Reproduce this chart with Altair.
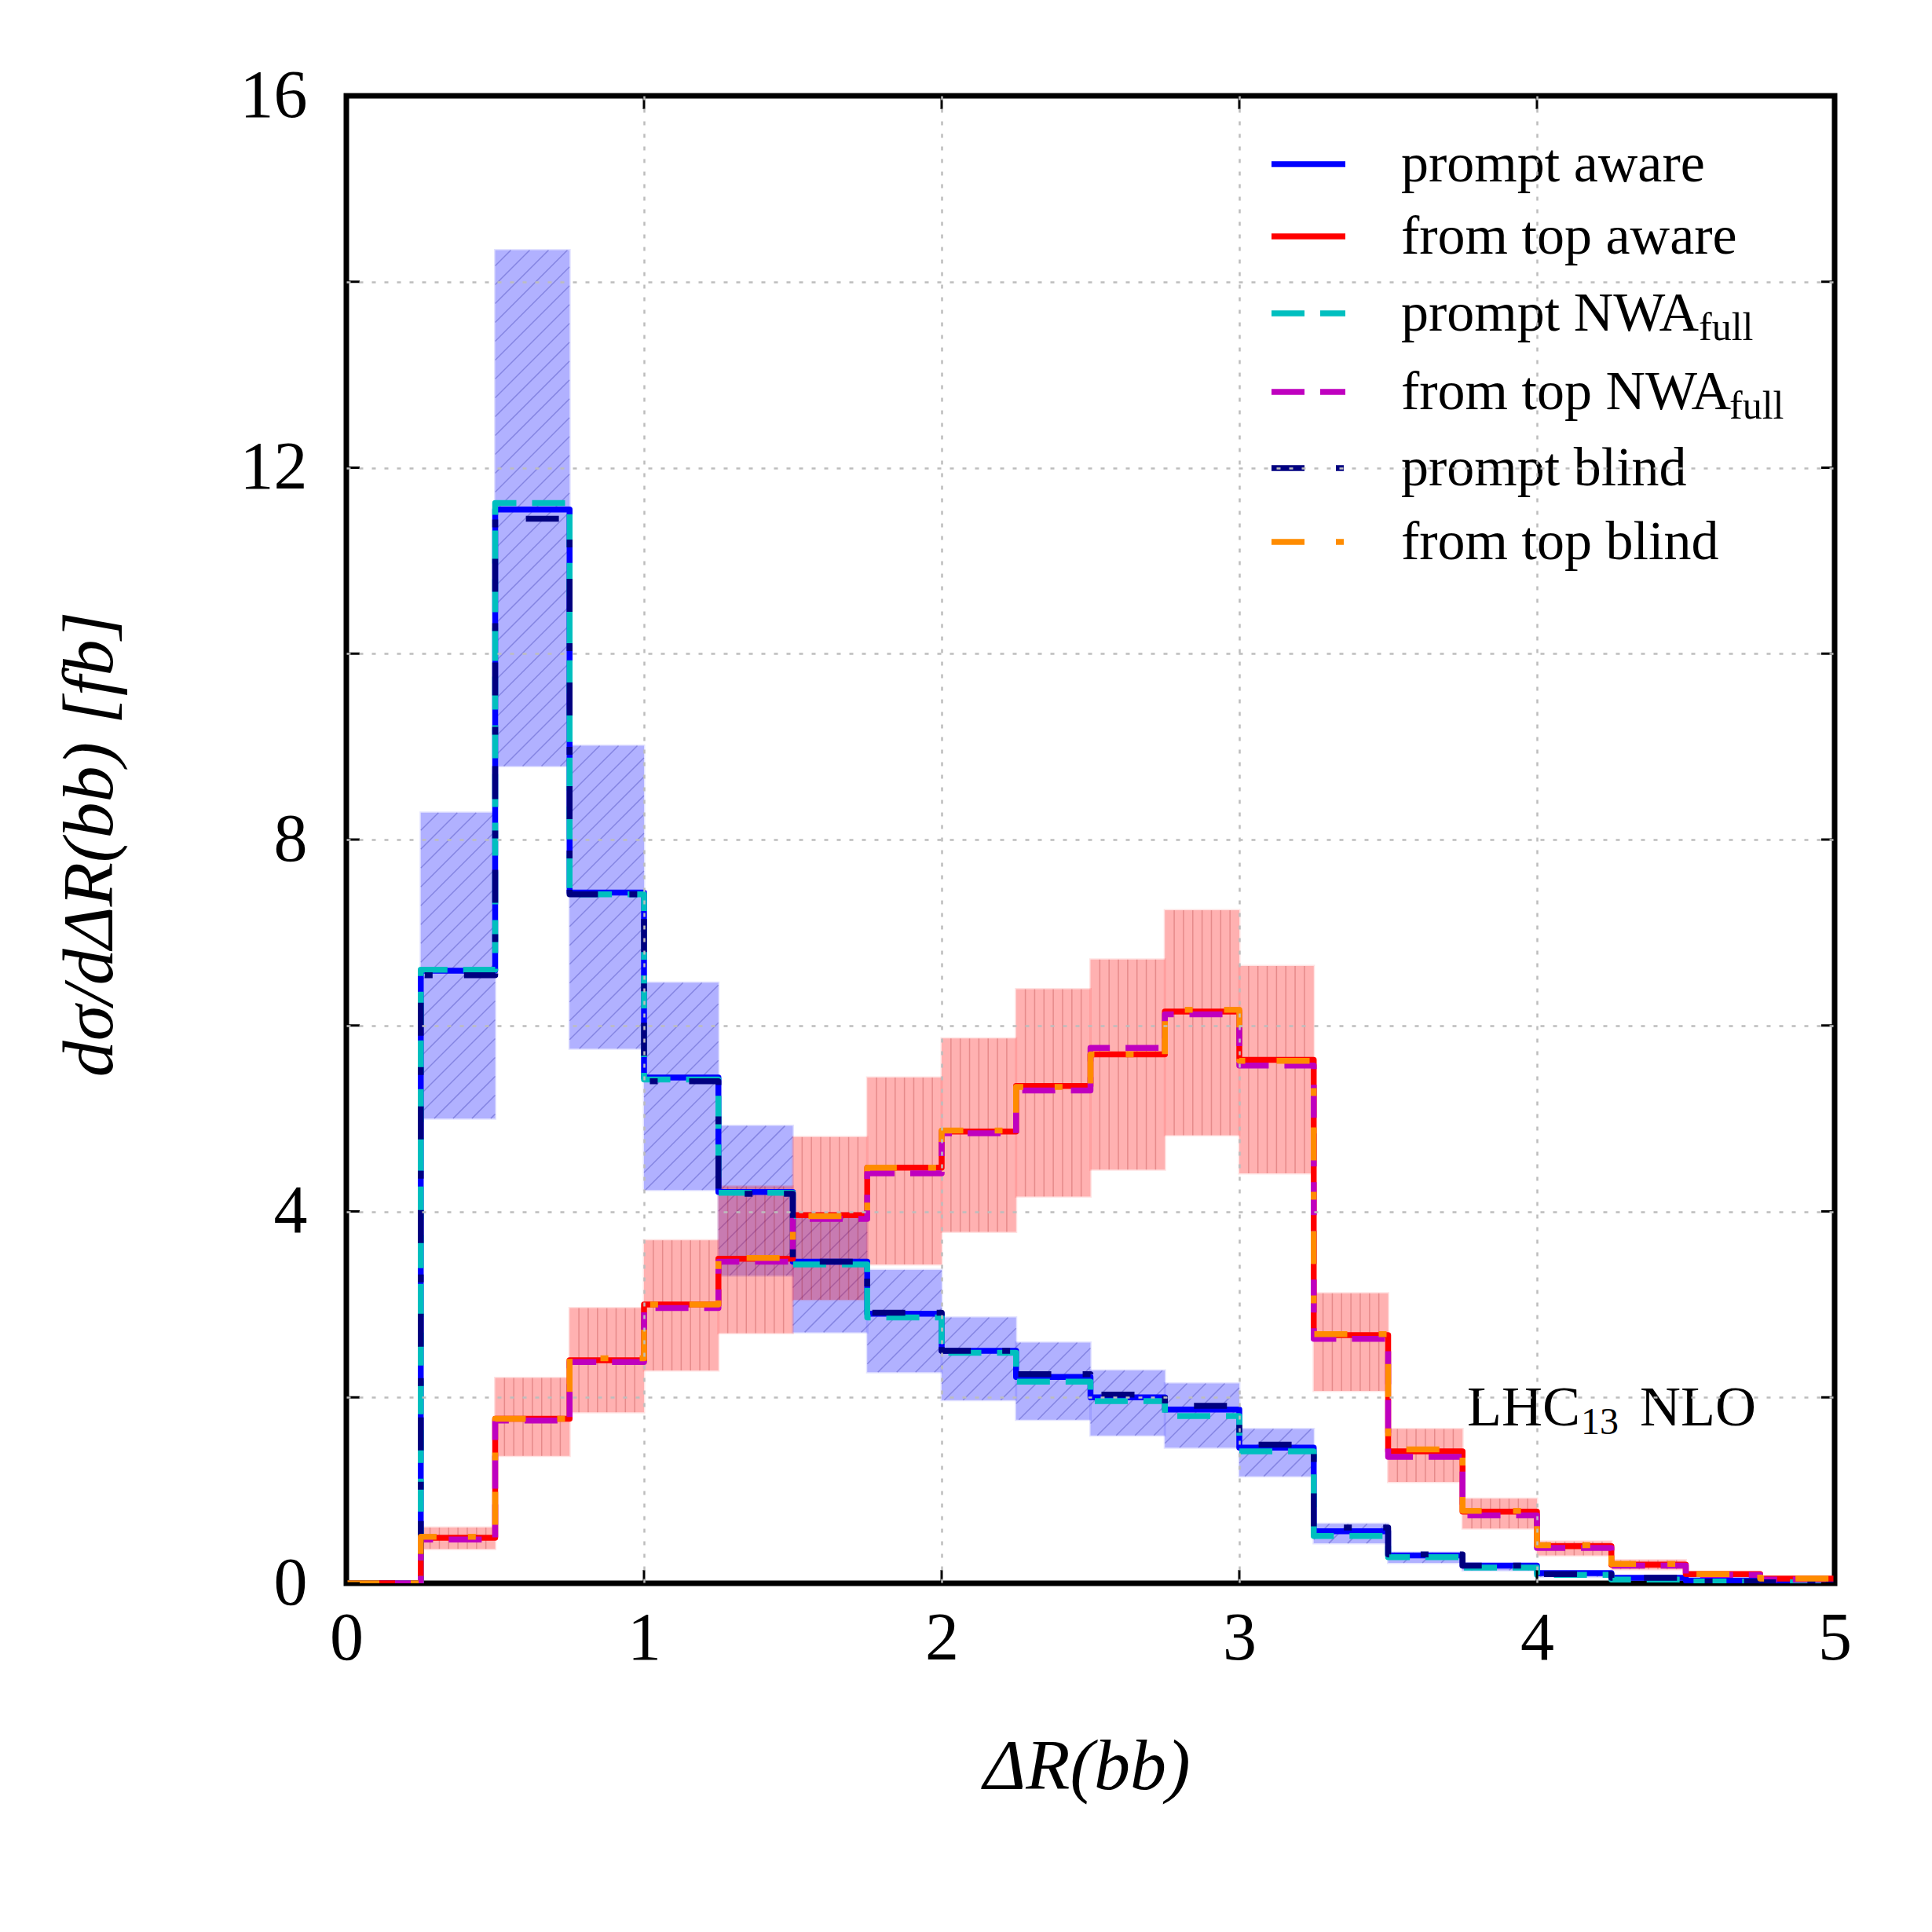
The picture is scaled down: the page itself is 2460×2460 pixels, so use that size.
import math
import altair as alt
import pandas as pd

# ---------------- data ----------------
bin_lo = [0.0, 0.25, 0.5, 0.75, 1.0, 1.25, 1.5, 1.75, 2.0, 2.25,
          2.5, 2.75, 3.0, 3.25, 3.5, 3.75, 4.0, 4.25, 4.5, 4.75]
bin_w = 0.25
x_max = 5.0

prompt_aware = [0, 6.59, 11.55, 7.43, 5.44, 4.21, 3.46, 2.90, 2.50, 2.22,
                2.00, 1.87, 1.46, 0.56, 0.30, 0.19, 0.11, 0.06, 0.03, 0.01]
prompt_nwa = [0, 6.60, 11.62, 7.41, 5.42, 4.20, 3.43, 2.86, 2.48, 2.17,
              1.96, 1.80, 1.42, 0.51, 0.28, 0.17, 0.09, 0.04, 0.02, 0.01]
prompt_blind = [0, 6.54, 11.45, 7.41, 5.40, 4.19, 3.46, 2.91, 2.50, 2.25,
                2.03, 1.91, 1.49, 0.60, 0.31, 0.19, 0.10, 0.06, 0.02, 0.01]

top_aware = [0, 0.49, 1.77, 2.40, 3.00, 3.49, 3.96, 4.47, 4.86, 5.35,
             5.69, 6.15, 5.63, 2.67, 1.42, 0.77, 0.40, 0.20, 0.10, 0.05]
top_nwa = [0, 0.47, 1.75, 2.38, 2.96, 3.46, 3.92, 4.41, 4.84, 5.30,
           5.76, 6.12, 5.57, 2.63, 1.36, 0.73, 0.38, 0.19, 0.09, 0.04]
top_blind = [0, 0.50, 1.77, 2.42, 3.00, 3.50, 3.95, 4.47, 4.87, 5.34,
             5.69, 6.17, 5.62, 2.68, 1.44, 0.78, 0.41, 0.21, 0.10, 0.05]

prompt_band_lo = [0, 5.00, 8.79, 5.75, 4.23, 3.31, 2.70, 2.27, 1.97, 1.76,
                  1.59, 1.46, 1.15, 0.43, 0.22, 0.14, 0.07, 0.04, 0.02, 0.005]
prompt_band_hi = [0, 8.29, 14.34, 9.01, 6.46, 4.92, 3.98, 3.37, 2.86, 2.59,
                  2.29, 2.15, 1.66, 0.64, 0.33, 0.21, 0.12, 0.07, 0.03, 0.015]

top_band_lo = [0, 0.37, 1.37, 1.84, 2.29, 2.69, 3.05, 3.43, 3.78, 4.16,
               4.45, 4.82, 4.41, 2.07, 1.09, 0.59, 0.30, 0.15, 0.07, 0.03]
top_band_hi = [0, 0.60, 2.21, 2.96, 3.69, 4.27, 4.80, 5.44, 5.86, 6.39,
               6.71, 7.24, 6.64, 3.12, 1.66, 0.91, 0.45, 0.25, 0.12, 0.06]

x_ticks = [0, 1, 2, 3, 4, 5]
y_ticks = [0, 2, 4, 6, 8, 10, 12, 14, 16]

legend_labels = ["prompt aware", "from top aware", "prompt NWA", "from top NWA",
                 "prompt blind", "from top blind"]
legend_subs = ["", "", "full", "full", "", ""]

# ---------------- styles / layout ----------------
W, H = 1895, 1894
FONT = "Liberation Serif"
LW = 7.5

series_style = [
    # (values, color, dash)
    (prompt_aware, "#0000ff", [1, 0]),
    (top_aware, "#ff0000", [1, 0]),
    (prompt_nwa, "#00bfbf", [42, 20]),
    (top_nwa, "#bf00bf", [42, 20]),
    (prompt_blind, "#000080", [42, 40, 10, 40]),
    (top_blind, "#ff8c00", [42, 40, 10, 40]),
]

xscale = alt.Scale(domain=[0, x_max], nice=False, zero=False)
yscale = alt.Scale(domain=[0, 16], nice=False, zero=False)

xaxis = alt.Axis(values=x_ticks, title=None, grid=True, gridColor="#bdbdbd",
                 gridDash=[5, 11], gridWidth=2.5, ticks=False, domain=False,
                 gridOpacity={"condition": {"test": "datum.value == 0 || datum.value == 5",
                                            "value": 0}, "value": 1},
                 labelFont=FONT, labelFontSize=86, labelColor="black",
                 labelPadding=28, labelFlush=False, zindex=1, format="d")
yaxis = alt.Axis(values=y_ticks, title=None, grid=True, gridColor="#bdbdbd",
                 gridDash=[5, 11], gridWidth=2.5, ticks=False, domain=False,
                 gridOpacity={"condition": {"test": "datum.value == 0 || datum.value == 16",
                                            "value": 0}, "value": 1},
                 labelFont=FONT, labelFontSize=86, labelColor="black",
                 labelPadding=50, labelFlush=False, zindex=1, format="d",
                 labelExpr="datum.value % 4 == 0 ? datum.label : ''")


def X(f):
    return alt.X(f, scale=xscale, axis=xaxis)


def Y(f):
    return alt.Y(f, scale=yscale, axis=yaxis)


def step_df(vals):
    return pd.DataFrame({"x": bin_lo + [x_max], "y": list(vals) + [vals[-1]]})


band_p = pd.DataFrame({"x0": bin_lo, "x1": [b + bin_w for b in bin_lo],
                       "lo": prompt_band_lo, "hi": prompt_band_hi})
band_p = band_p[band_p.hi > band_p.lo]
band_t = pd.DataFrame({"x0": bin_lo, "x1": [b + bin_w for b in bin_lo],
                       "lo": top_band_lo, "hi": top_band_hi})
band_t = band_t[band_t.hi > band_t.lo]

# diagonal hatch for the prompt band (45 deg in pixel space)
sx, sy = W / x_max, H / 16.0
d = 24.0
segs = []
for _, r in band_p.iterrows():
    u0, u1 = r.x0 * sx, r.x1 * sx
    v0, v1 = r.lo * sy, r.hi * sy
    kmin = math.ceil((v0 - u1) / d)
    kmax = math.floor((v1 - u0) / d)
    for k in range(kmin, kmax + 1):
        c = k * d
        us = max(u0, v0 - c)
        ue = min(u1, v1 - c)
        if ue - us > 0.5:
            segs.append({"xa": us / sx, "ya": (us + c) / sy,
                         "xb": ue / sx, "yb": (ue + c) / sy})
hatch_p = pd.DataFrame(segs)

# vertical hatch for the from-top band
vrows = []
for _, r in band_t.iterrows():
    for k in range(1, 8):
        vrows.append({"xv": r.x0 + k * bin_w / 8, "lo": r.lo, "hi": r.hi})
hatch_t = pd.DataFrame(vrows)

layers = []

# prompt band
layers.append(
    alt.Chart(band_p).mark_rect(color="#0000ff", opacity=0.3, stroke="#0000ff",
                                strokeOpacity=0.35, strokeWidth=3).encode(
        x=X("x0:Q"), x2="x1:Q", y=Y("lo:Q"), y2="hi:Q")
)
layers.append(
    alt.Chart(hatch_p).mark_rule(color="#00008c", opacity=0.25, strokeWidth=1.5).encode(
        x=X("xa:Q"), x2="xb:Q", y=Y("ya:Q"), y2="yb:Q")
)
# from-top band
layers.append(
    alt.Chart(band_t).mark_rect(color="#ff0000", opacity=0.3, stroke="#ff0000",
                                strokeOpacity=0.35, strokeWidth=3).encode(
        x=X("x0:Q"), x2="x1:Q", y=Y("lo:Q"), y2="hi:Q")
)
layers.append(
    alt.Chart(hatch_t).mark_rule(color="#8c0000", opacity=0.22, strokeWidth=1.5).encode(
        x=X("xv:Q"), y=Y("lo:Q"), y2="hi:Q")
)

# step histograms
for vals, col, dash in series_style:
    layers.append(
        alt.Chart(step_df(vals)).mark_line(
            interpolate="step-after", color=col, strokeWidth=LW,
            strokeDash=dash, strokeJoin="round", clip=True).encode(
            x=X("x:Q"), y=Y("y:Q"))
    )

# inward ticks on all four sides
TL = 17
ytd = pd.DataFrame({"v": y_ticks})
xtd = pd.DataFrame({"v": x_ticks})
layers.append(alt.Chart(ytd).mark_rule(color="black", strokeWidth=3).encode(
    y=Y("v:Q"), x=alt.value(0), x2=alt.value(TL)))
layers.append(alt.Chart(ytd).mark_rule(color="black", strokeWidth=3).encode(
    y=Y("v:Q"), x=alt.value(W - TL), x2=alt.value(W)))
layers.append(alt.Chart(xtd).mark_rule(color="black", strokeWidth=3).encode(
    x=X("v:Q"), y=alt.value(H - TL), y2=alt.value(H)))
layers.append(alt.Chart(xtd).mark_rule(color="black", strokeWidth=3).encode(
    x=X("v:Q"), y=alt.value(0), y2=alt.value(TL)))

# legend
row_y = [87, 179, 277, 377, 474, 568]
sub_x = {2: 1722, 3: 1761}
for i, (lab, sub) in enumerate(zip(legend_labels, legend_subs)):
    _, col, dash = series_style[i]
    layers.append(alt.Chart(pd.DataFrame({"t": [lab]})).mark_rule(
        color=col, strokeWidth=LW, strokeDash=dash).encode(
        x=alt.value(1178), x2=alt.value(1272), y=alt.value(row_y[i])))
    layers.append(alt.Chart(pd.DataFrame({"t": [lab]})).mark_text(
        font=FONT, fontSize=70, align="left", baseline="alphabetic", color="black").encode(
        x=alt.value(1343), y=alt.value(row_y[i] + 22), text="t:N"))
    if sub:
        layers.append(alt.Chart(pd.DataFrame({"t": [sub]})).mark_text(
            font=FONT, fontSize=50, align="left", baseline="alphabetic", color="black").encode(
            x=alt.value(sub_x[i]), y=alt.value(row_y[i] + 34), text="t:N"))

# annotation
for txt, xp, yp, fs in [("LHC", 1427, 1693, 72), ("13", 1572, 1704, 48), ("NLO", 1647, 1693, 72)]:
    layers.append(alt.Chart(pd.DataFrame({"t": [txt]})).mark_text(
        font=FONT, fontSize=fs, align="left", baseline="alphabetic", color="black").encode(
        x=alt.value(xp), y=alt.value(yp), text="t:N"))

# axis titles
layers.append(alt.Chart(pd.DataFrame({"t": ["ΔR(bb)"]})).mark_text(
    font=FONT, fontSize=92, fontStyle="italic", align="center", baseline="middle",
    color="black").encode(x=alt.value(943), y=alt.value(2128), text="t:N"))
layers.append(alt.Chart(pd.DataFrame({"t": ["dσ/dΔR(bb) [fb]"]})).mark_text(
    font=FONT, fontSize=92, fontStyle="italic", align="center", baseline="middle",
    angle=270, color="black").encode(x=alt.value(-326), y=alt.value(953), text="t:N"))

chart = alt.layer(*layers).properties(
    width=W, height=H,
    autosize=alt.AutoSizeParams(type="none"),
    padding={"left": 433, "top": 114, "right": 116, "bottom": 436},
    background="white",
).configure_view(stroke="black", strokeWidth=7)

chart.save("out.html", embed_options={"renderer": "svg", "actions": False})
